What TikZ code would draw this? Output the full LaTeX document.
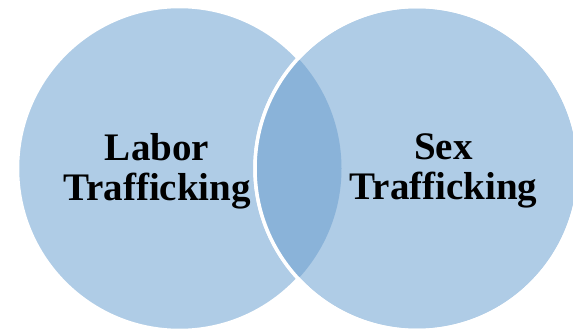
\documentclass[tikz,border=0pt]{standalone}
\usepackage{fontspec}
\setmainfont{Liberation Serif}
\definecolor{vennlight}{RGB}{175,204,230}
\definecolor{venndark}{RGB}{138,179,217}

\begin{document}
\begin{tikzpicture}[x=1pt,y=-1pt,
  set/.style={circle,minimum size=324pt,inner sep=0pt,fill=vennlight,draw=white,line width=3.5pt},
  setname/.style={font=\bfseries\fontsize{39}{40}\selectfont,align=center,inner sep=0pt}]

\useasboundingbox (0,0) rectangle (573,331);

\node[set] (labor) at (179.5,168.5) {};
\node[set] (sex) at (417,168.5) {};

% overlap
\begin{scope}
\clip (labor.center) circle (162pt);
\fill[venndark] (sex.center) circle (162pt);
\end{scope}
\draw[white,line width=3.5pt] (sex.center) circle (162pt);

\node[setname] (labortext) at (157,171) {Labor\\Trafficking};
\node[setname] (sextext) at (443.5,171) {Sex\\Trafficking};

\end{tikzpicture}
\end{document}
